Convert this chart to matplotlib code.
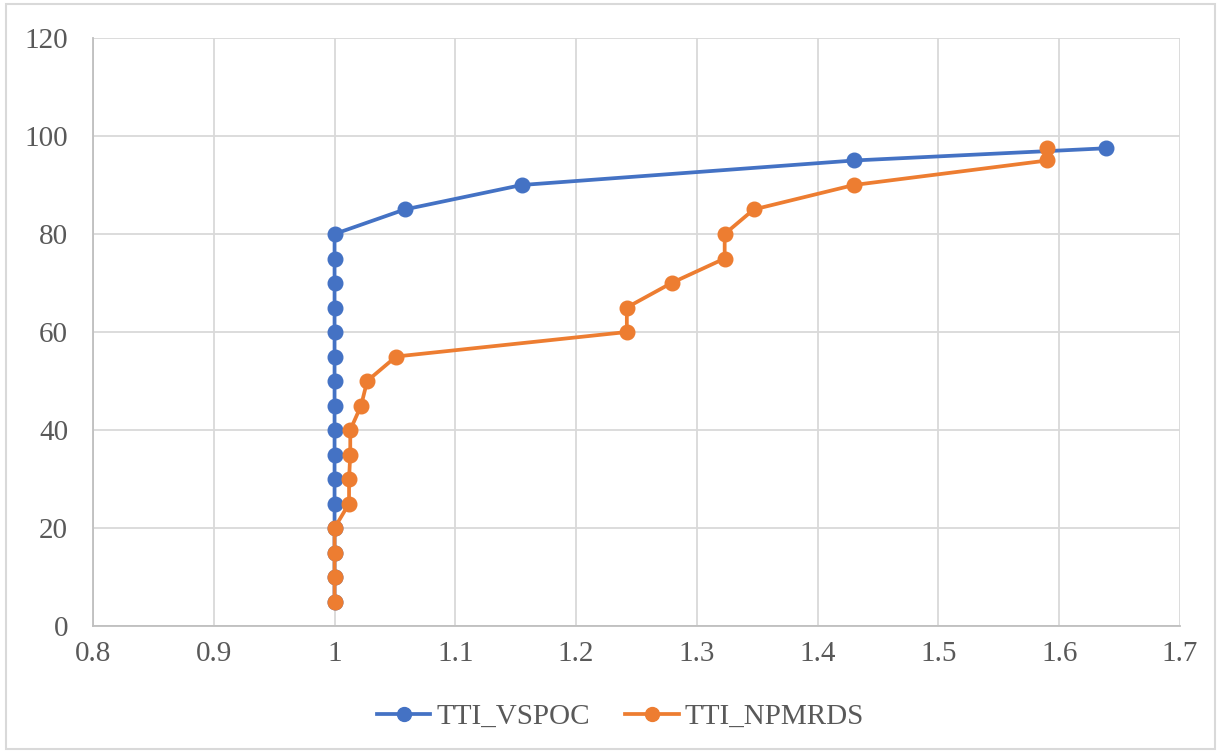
import matplotlib
matplotlib.use("Agg")
import matplotlib.pyplot as plt
from matplotlib.patches import Rectangle

# percentile levels (y) and travel-time index values (x)
vspoc_pct = [5, 10, 15, 20, 25, 30, 35, 40, 45, 50, 55, 60, 65, 70, 75, 80, 85, 90, 95, 97.5]
vspoc_tti = [1.0, 1.0, 1.0, 1.0, 1.0, 1.0, 1.0, 1.0, 1.0, 1.0, 1.0, 1.0, 1.0, 1.0, 1.0, 1.0,
             1.058, 1.155, 1.43, 1.639]

npmrds_pct = [5, 10, 15, 20, 25, 30, 35, 40, 45, 50, 55, 60, 65, 70, 75, 80, 85, 90, 95, 97.5]
npmrds_tti = [1.0, 1.0, 1.0, 1.0, 1.012, 1.012, 1.013, 1.013, 1.022, 1.027, 1.051,
              1.242, 1.242, 1.279, 1.323, 1.323, 1.347, 1.43, 1.59, 1.59]

x_ticks = [0.8, 0.9, 1.0, 1.1, 1.2, 1.3, 1.4, 1.5, 1.6, 1.7]
x_labels = ["0.8", "0.9", "1", "1.1", "1.2", "1.3", "1.4", "1.5", "1.6", "1.7"]
y_ticks = [0, 20, 40, 60, 80, 100, 120]

BLUE = "#4472c4"
ORANGE = "#ed7d31"
GRID = "#d9d9d9"
AXIS = "#bfbfbf"
TEXT = "#595959"

plt.rcParams["font.family"] = ["Liberation Serif", "DejaVu Serif"]

fig = plt.figure(figsize=(12.21, 7.53), dpi=100)
ax = fig.add_axes([93 / 1221, 1 - 626 / 753, (1180 - 93) / 1221, (626 - 38) / 753])

ax.plot(vspoc_tti, vspoc_pct, color=BLUE, lw=2.7, marker="o", ms=10.5,
        label="TTI_VSPOC", zorder=3)
ax.plot(npmrds_tti, npmrds_pct, color=ORANGE, lw=2.7, marker="o", ms=10.5,
        label="TTI_NPMRDS", zorder=4)

ax.set_xlim(0.8, 1.7)
ax.set_ylim(0, 120)
ax.set_xticks(x_ticks)
ax.set_xticklabels(x_labels)
ax.set_yticks(y_ticks)
ax.grid(True, color=GRID, lw=1.3, zorder=0)
ax.set_axisbelow(True)
for s in ax.spines.values():
    s.set_visible(False)
for side in ("left", "bottom"):
    ax.spines[side].set_visible(True)
    ax.spines[side].set_color(AXIS)
    ax.spines[side].set_linewidth(1.3)
ax.tick_params(axis="both", length=0, labelsize=21, labelcolor=TEXT)
ax.tick_params(axis="x", pad=11)
ax.tick_params(axis="y", pad=18)

leg = fig.legend(loc="center", bbox_to_anchor=(0.508, 1 - 717 / 753), ncol=2,
                 frameon=False, fontsize=21, handlelength=1.85, columnspacing=1.2,
                 handletextpad=0.2)
for t in leg.get_texts():
    t.set_color(TEXT)
for h in leg.legend_handles:
    h.set_markersize(10)

fig.patches.append(Rectangle((0.005, 0.005), 0.99, 0.99, transform=fig.transFigure,
                             fill=False, edgecolor=GRID, lw=1.5))

fig.savefig("out.png", dpi=100)
